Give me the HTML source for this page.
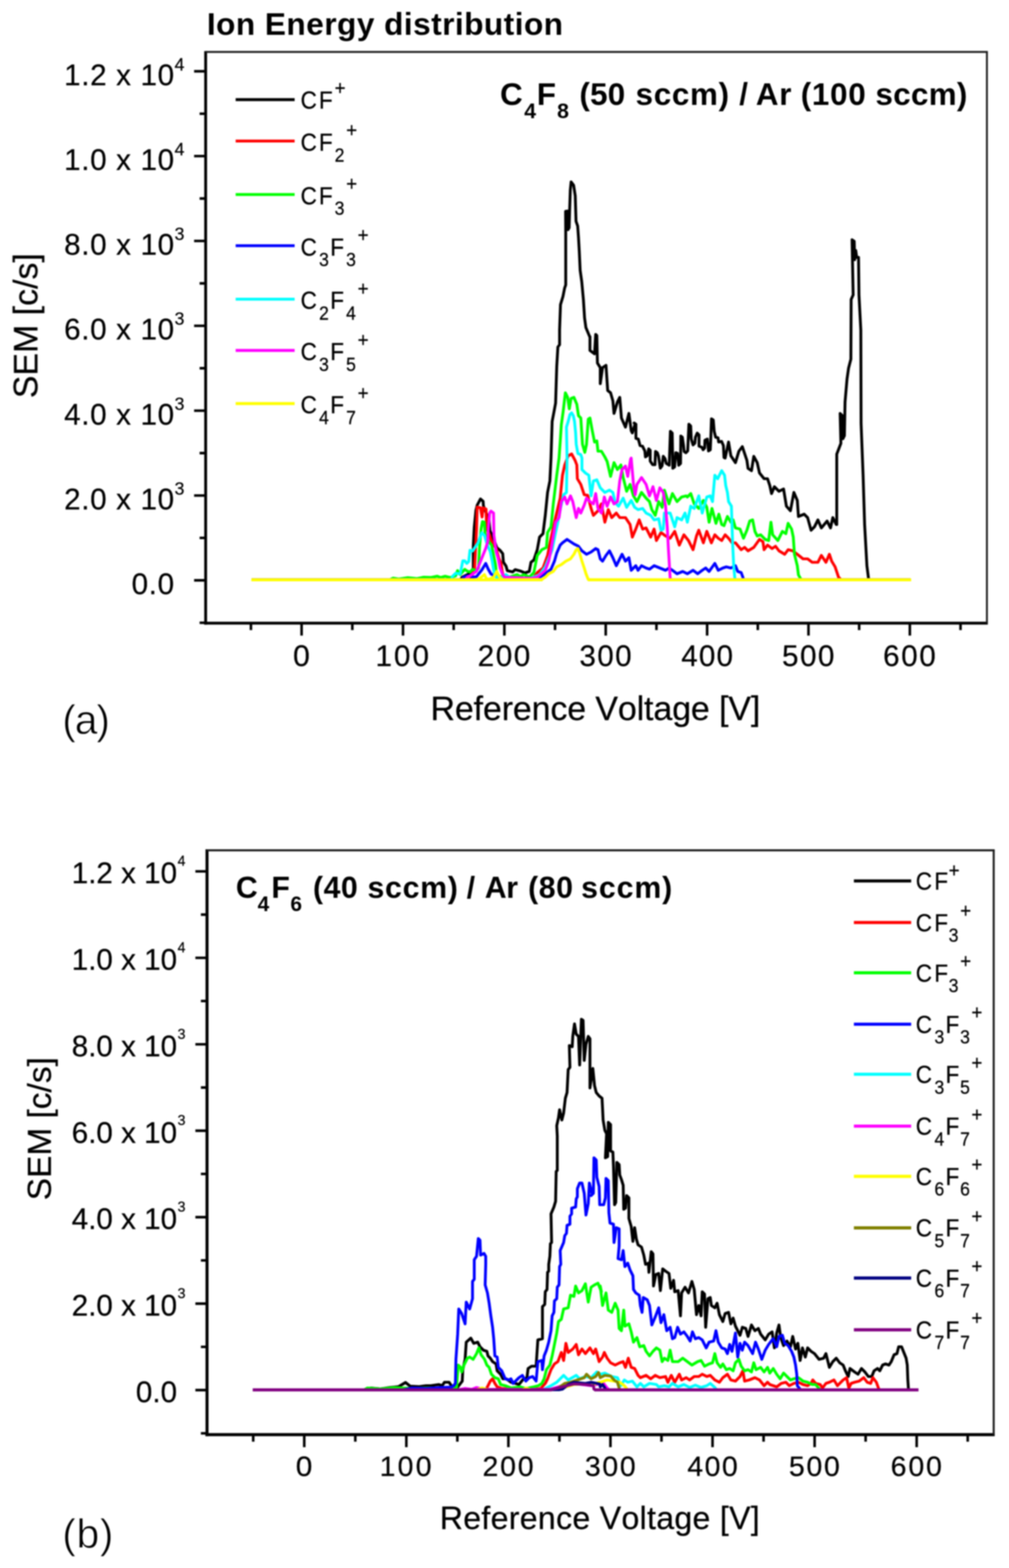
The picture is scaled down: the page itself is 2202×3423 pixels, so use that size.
<!DOCTYPE html>
<html lang="en"><head><meta charset="utf-8"><title>Ion Energy distribution</title>
<style>html,body{margin:0;padding:0;background:#fff}body{width:2202px;height:3423px;overflow:hidden}svg{display:block}</style>
</head><body>
<svg width="2202" height="3423" viewBox="0 0 2202 3423" font-family='"Liberation Sans", Arial, Helvetica, sans-serif' fill="#000">
<rect width="2202" height="3423" fill="#fff"/>
<style>text{stroke:#000;stroke-width:.5px;font-kerning:none}text[font-weight]{stroke:none}</style>
<defs><filter id="soft" x="0" y="0" width="100%" height="100%" filterUnits="userSpaceOnUse" color-interpolation-filters="sRGB"><feGaussianBlur stdDeviation="1.5"/></filter></defs>
<g filter="url(#soft)">
<text x="451.38" y="75.7" font-size="69" letter-spacing="1.01" font-weight="bold">Ion Energy distribution</text>
<polyline points="549,1265.7 1005,1265.7 1008.6,1260 1020,1254.3 1027.1,1250 1032.9,1240 1032.9,1191.4 1035,1151.4 1038.6,1114.3 1041.4,1102.9 1048.6,1089.3 1054.3,1094.3 1055,1104.3 1062.9,1124.3 1067.1,1134.3 1069.3,1158.6 1078.6,1180 1084.3,1195.7 1091.4,1201.4 1097.1,1208.6 1098.6,1227.1 1104.3,1235.7 1107.1,1245.7 1118.6,1248.6 1124.3,1243.6 1137.1,1247.1 1147.1,1251.4 1147.5,1250 1155,1247.5 1158.8,1227.5 1165,1222.5 1172.5,1200 1177.5,1172.5 1185,1165 1190,1125 1195,1075 1200,1050 1202.5,1000 1205,920 1208.8,900 1212.5,880 1215,800 1217.5,757.5 1221.2,752.5 1221.2,720 1223.2,665 1228.6,647.1 1232.1,629.3 1234.6,622.1 1234.6,507.9 1234.3,461.4 1238.6,460.7 1239.6,501.4 1242.1,497.1 1243.2,457.9 1244.6,415 1246.4,397.1 1251.8,404.3 1255.4,427.5 1257.1,482.9 1260.7,493.6 1262.5,518.6 1264.3,550.7 1266.1,590 1269.6,615 1273.2,654.3 1275.7,693.6 1278.6,715 1287.5,736.4 1287.5,735 1287.5,765 1297.5,772.5 1300,730 1302.5,732.5 1303.8,792.5 1310,802.5 1310,837.5 1315,802.5 1322.5,797.5 1326.2,852.5 1332.5,857.5 1337.5,875 1340,902.5 1347.5,877.5 1352.5,867.5 1356.2,912.5 1365,932.5 1372.5,902.5 1377.5,940 1380,945 1386.2,925 1383.9,923.4 1387.8,926 1387.8,957.1 1393,958.4 1396.9,972.7 1402.1,974 1407.3,984.4 1408.6,997.4 1412.5,994.8 1415.7,979.9 1419,983.1 1419,1006.5 1424.2,1014.3 1429.4,1014.3 1430.6,985.7 1434.5,988.3 1437.1,996.1 1441,1022.1 1444.9,1016.9 1447.5,996.1 1451.4,1001.3 1454,1011.7 1460.5,1015.6 1463.1,941.6 1467,945.5 1468.3,1022.1 1472.2,1019.5 1474.8,988.3 1478.7,989.6 1481.3,1015.6 1485.2,1011.7 1485.8,951.9 1489.1,954.5 1491.7,972.7 1493,985.7 1496.9,988.3 1500.8,984.4 1503.4,926 1507.3,929.9 1508.6,958.4 1512.5,971.4 1516.4,967.5 1517.7,954.5 1521.6,945.5 1525.5,949.4 1525.5,974 1531.9,976.6 1534.5,981.8 1537.8,977.9 1538.4,961 1543.6,958.4 1546.2,984.4 1550.1,981.8 1551.4,951.9 1552.7,914.3 1556.6,916.9 1558.6,941.6 1561.8,954.5 1567,955.8 1568.3,964.9 1574.8,963.6 1578.7,972.7 1580,998.7 1582.5,1000 1590,965 1595,995 1605,1010 1612.5,985 1620,975 1630,1005 1632.5,1022.5 1640,1027.5 1645,996.2 1652.5,1010 1657.5,1032.5 1667.5,1045 1675,1045 1680,1060 1683.8,1077.5 1690,1062.5 1700,1072.5 1710,1067.5 1716.2,1105 1725,1115 1732.5,1075 1740,1092.5 1742.5,1127.5 1755,1122.5 1762.5,1130 1770,1157.5 1777.5,1150 1785,1135 1792.5,1152.5 1805,1137.5 1812.5,1152.5 1817.5,1130 1825,1145 1826.1,1145 1826.1,991.3 1835.1,967.9 1833.5,902.7 1838.5,907.7 1839.5,957.8 1842.8,951.2 1844.2,877.6 1848.5,827.5 1851.8,804.1 1856.9,784.1 1857.5,653.7 1861.9,643.7 1859.5,523.4 1864.2,526.8 1865.2,566.9 1867.6,546.8 1869.6,561.8 1873.6,561.8 1874.6,643.7 1878.6,720.6 1879.2,924.4 1883.6,1038 1886.9,1145 1891.9,1235.2 1895.3,1261.9 1897,1265.7 1987,1265.7" fill="none" stroke="#000" stroke-width="6.2" stroke-linejoin="round" stroke-linecap="butt"/>
<polyline points="549,1265.7 1025,1265.7 1028.6,1260.7 1035.7,1240 1040,1154.3 1041.4,1107.1 1048.6,1108.6 1052.1,1128.6 1054.3,1108.6 1060.7,1111.4 1062.1,1154.3 1068.6,1168.6 1072.9,1182.9 1082.9,1197.1 1088.6,1218.6 1093.6,1230 1095.7,1245.7 1098.6,1258.6 1110,1263.7 1160,1263.7 1165,1260 1172.5,1250 1185,1240 1195,1212.5 1202.5,1175 1212.5,1130 1222.5,1087.5 1227.5,1037.5 1232.5,1015 1240,995 1247.5,991 1255,1005 1258.8,1015 1260,1045 1267.5,1057.5 1275,1080 1282.5,1081.2 1290,1110 1295,1125 1305,1115 1312.5,1100 1320,1140 1327.5,1112.5 1335,1130 1345,1120 1352.5,1130 1365,1130 1375,1145 1380,1172.5 1387.5,1155 1395,1135 1402.5,1155 1410,1152.5 1420,1172.5 1427.5,1155 1432.5,1180 1442.5,1162.5 1452.5,1170 1462.5,1175 1472.5,1160 1482.5,1190 1492.5,1167.5 1502.5,1180 1507.5,1190 1512.5,1200 1520,1170 1525,1157.5 1535,1185 1542.5,1160 1552.5,1185 1560,1167.5 1567.5,1175 1575,1180 1582.5,1167.5 1590,1175 1597.5,1185 1605,1185 1617.5,1200 1625,1195 1632.5,1202.5 1645,1195 1657.5,1177.5 1665,1182.5 1667.5,1200 1675,1190 1685,1197.5 1692.5,1192.5 1700,1202.5 1712.5,1210 1720,1200 1730,1202.5 1740,1210 1752.5,1220 1762.5,1220 1772.5,1227.5 1785,1227.5 1792.5,1212.5 1802.5,1227.5 1810,1210 1815,1225 1822.5,1237.5 1830,1260 1833.8,1263.8 1835,1265.7 1987,1265.7" fill="none" stroke="#f00" stroke-width="6.2" stroke-linejoin="round" stroke-linecap="butt"/>
<polyline points="549,1265.7 850,1265.7 858,1262 870,1264 890,1261 910,1263 925,1260 940,1260.7 954.3,1257.9 961.4,1260.7 971.4,1257.9 982.9,1260.7 994.3,1257.1 998.6,1245.7 1004.3,1254.3 1014.3,1242.9 1020,1247.1 1025.7,1248.6 1031.4,1242.9 1040,1245.7 1044.3,1240 1046.4,1197.1 1050,1154.3 1052.9,1138.6 1057.1,1140 1058.6,1165.7 1061.4,1175.7 1072.9,1190 1077.1,1211.4 1081.4,1232.9 1082.9,1247.1 1090,1258.6 1111.4,1260 1128.6,1254.3 1135.7,1258.6 1142.9,1254.3 1150,1257.1 1155,1260 1165,1250 1172.5,1212.5 1182.5,1200 1192.5,1195 1195,1162.5 1202.5,1150 1207.5,1100 1215,1037.5 1220,1000 1222.5,965 1225,927.5 1228.8,900 1233.8,857.5 1238.8,867.5 1242.5,892.5 1246.2,870 1252.5,867.5 1258.8,882.5 1262.5,907.5 1267.5,912.5 1271.2,970 1276.2,987.5 1280,970 1283.8,915 1287.5,912.5 1292.5,940 1297.5,965 1302.5,962.5 1305,985 1312.5,985 1320,997.5 1325,1007.5 1332.5,1040 1340,1010 1347.5,1025 1355,1015 1360,1042.5 1367.5,1072.5 1375,1057.5 1382.5,1082.5 1390,1095 1400,1075 1410,1087.5 1417.5,1095 1422.5,1112.5 1430,1125 1437.5,1095 1445,1107.5 1450,1070 1460,1100 1467.5,1077.5 1477.5,1095 1487.5,1085 1497.5,1082.5 1500,1085 1507.5,1077.5 1515,1100 1525,1110 1535,1092.5 1542.5,1107.5 1547.5,1140 1553.8,1110 1562.5,1142.5 1568.8,1122.5 1575,1145 1580,1147.5 1587.5,1127.5 1595,1140 1600,1135 1605,1152.5 1615,1155 1622.5,1175 1630,1157.5 1636.2,1137.5 1642.5,1135 1647.5,1160 1652.5,1170 1660,1167.5 1670,1177.5 1677.5,1180 1682.5,1140 1686.2,1167.5 1697.5,1180 1707.5,1160 1715,1165 1720,1142.5 1727.5,1155 1731.2,1172.5 1733.8,1210 1740,1235 1742.5,1255 1747.5,1263.8 1750,1265.7 1987,1265.7" fill="none" stroke="#0f0" stroke-width="6.2" stroke-linejoin="round" stroke-linecap="butt"/>
<polyline points="549,1265.7 1010,1265.7 1011.4,1260 1020,1257.1 1032.9,1260 1040,1258.6 1051.4,1244.3 1060,1230 1065.7,1242.9 1071.4,1252.9 1082.9,1258.6 1088.6,1264.3 1100,1265.7 1160,1265.7 1165,1262.5 1177.5,1260 1190,1252.5 1202.5,1242.5 1210,1225 1215,1207.5 1222.5,1190 1227.5,1185 1237.5,1177.5 1245,1182.5 1252.5,1187.5 1262.5,1192.5 1270,1202.5 1280,1210 1290,1205 1300,1197.5 1305,1200 1310,1220 1315,1225 1322.5,1212.5 1330,1202.5 1337.5,1217.5 1345,1235 1350,1225 1357.5,1210 1365,1225 1372.5,1217.5 1377.5,1245 1387.5,1235 1392.5,1245 1400,1235 1410,1240 1417.5,1242.5 1427.5,1235 1440,1240 1452.5,1245 1460,1240 1467.5,1245 1477.5,1252.5 1490,1247.5 1500,1252.5 1512.5,1245 1522.5,1252.5 1532.5,1245 1540,1240 1547.5,1247.5 1560,1230 1567.5,1245 1577.5,1240 1585,1237.5 1595,1240 1605,1235 1610,1247.5 1617.5,1250 1621.2,1260 1622.5,1265 1625,1265.7 1987,1265.7" fill="none" stroke="#00f" stroke-width="6.2" stroke-linejoin="round" stroke-linecap="butt"/>
<polyline points="549,1265.7 985,1265.7 987.1,1258.6 994.3,1251.4 1004.3,1252.9 1010,1224.3 1014.3,1224.3 1018.6,1230 1022.9,1225.7 1025.7,1201.4 1031.4,1202.9 1037.1,1194.3 1042.9,1185.7 1047.1,1174.3 1051.4,1162.9 1057.1,1168.6 1061.4,1182.9 1065.7,1194.3 1070,1204.3 1074.3,1225.7 1077.1,1242.9 1079.3,1254.3 1082.9,1260 1097.1,1260 1104.3,1254.3 1111.4,1260 1150,1264.7 1165,1260 1177.5,1255 1190,1237.5 1205,1200 1212.5,1162.5 1217.5,1140 1222.5,1112.5 1230,1080 1236.2,1075 1237.5,1000 1236.2,932.5 1240,920 1243.8,905 1247.5,901.2 1251.2,907.5 1253.8,920 1256.2,945 1257.5,970 1261.2,990 1267.5,992.5 1270,1000 1270,1025 1277.5,1032.5 1285,1037.5 1290,1082.5 1295,1050 1302.5,1047.5 1310,1065 1320,1075 1330,1070 1337.5,1075 1342.5,1097.5 1350,1105 1360,1087.5 1367.5,1107.5 1377.5,1092.5 1385,1107.5 1392.5,1112.5 1402.5,1110 1410,1120 1420,1125 1427.5,1135 1437.5,1132.5 1442.5,1157.5 1447.5,1155 1450,1120 1462.5,1120 1472.5,1150 1477.5,1130 1487.5,1135 1495,1120 1500,1140 1507.5,1105 1515,1110 1525,1082.5 1532.5,1120 1542.5,1085 1550,1082.5 1555,1095 1560,1037.5 1566.2,1045 1575,1027.5 1581.2,1037.5 1583.8,1060 1587.5,1075 1590,1095 1596.2,1105 1598.8,1185 1601.2,1235 1603.8,1263.8 1605,1265.7 1987,1265.7" fill="none" stroke="#0ff" stroke-width="6.2" stroke-linejoin="round" stroke-linecap="butt"/>
<polyline points="549,1265.7 1015,1265.7 1020,1260 1025.7,1257.1 1040,1247.1 1048.6,1225.7 1054.3,1211.4 1060,1197.1 1064.3,1182.9 1065.7,1154.3 1068.6,1120 1071.4,1115.7 1077.1,1120 1077.9,1168.6 1080,1182.9 1082.9,1204.3 1087.1,1218.6 1091.4,1240 1097.1,1254.3 1101.4,1260 1160,1262.5 1172.5,1260 1190,1245 1197.5,1225 1202.5,1200 1207.5,1170 1212.5,1140 1220,1130 1225,1095 1232.5,1085 1237.5,1100 1245,1082.5 1250,1095 1257.5,1130 1262.5,1110 1267.5,1120 1275,1102.5 1280,1087.5 1287.5,1095 1295,1100 1300,1077.5 1305,1110 1312.5,1120 1318.8,1085 1325,1105 1332.5,1085 1340,1100 1347.5,1095 1352.5,1050 1357.5,1025 1365,1017.5 1370,1040 1376.2,1002.5 1377.5,1000 1382.5,1057.5 1386.2,1080 1390,1057.5 1400,1042.5 1410,1057.5 1417.5,1082.5 1425,1062.5 1432.5,1092.5 1440,1065 1447.5,1075 1452.5,1105 1456.2,1150 1458.8,1200 1462.5,1261.2 1464,1265.7 1987,1265.7" fill="none" stroke="#f0f" stroke-width="6.2" stroke-linejoin="round" stroke-linecap="butt"/>
<polyline points="549,1265.7 1035,1265.7 1040,1265.7 1048.6,1261.4 1057.1,1254.3 1061.4,1262.9 1068.6,1264.3 1077.1,1260 1084.3,1247.1 1088.6,1257.1 1094.3,1264.3 1101.4,1265.7 1182.5,1265 1190,1260 1197.5,1252.5 1207.5,1247.5 1215,1237.5 1225,1232.5 1235,1225 1245,1220 1252.5,1210 1257.5,1200 1261.2,1197.5 1265,1207.5 1270,1225 1275,1240 1278.8,1252.5 1283.8,1265 1290,1265.7 1987,1265.7" fill="none" stroke="#ff0" stroke-width="6.2" stroke-linejoin="round" stroke-linecap="butt"/>
<path d="M548.5 1265.9H1184M1283 1265.9H1988.5" fill="none" stroke="#ff0" stroke-width="6.4"/>
<g stroke="#000" fill="none" stroke-linecap="butt">
<line x1="448.8" y1="111.4" x2="448.8" y2="1363.5" stroke-width="6.2"/>
<line x1="445.6" y1="1360.4" x2="2155.8" y2="1360.4" stroke-width="6.2"/>
<line x1="448.8" y1="113.4" x2="2155.8" y2="113.4" stroke="#1c1c1c" stroke-width="4.1"/>
<line x1="2153.8" y1="113.4" x2="2153.8" y2="1360.4" stroke="#1c1c1c" stroke-width="4.1"/>
<path d="M435.6 1359.5H448.8M423.6 1266.9H448.8M435.6 1174.3H448.8M423.6 1081.7H448.8M435.6 989.1H448.8M423.6 896.5H448.8M435.6 803.9H448.8M423.6 711.2H448.8M435.6 618.6H448.8M423.6 526H448.8M435.6 433.4H448.8M423.6 340.8H448.8M435.6 248.2H448.8M423.6 155.6H448.8M547.6 1360.4V1375.5M658.2 1360.4V1387.5M768.9 1360.4V1375.5M879.5 1360.4V1387.5M990.1 1360.4V1375.5M1100.7 1360.4V1387.5M1211.3 1360.4V1375.5M1321.9 1360.4V1387.5M1432.6 1360.4V1375.5M1543.2 1360.4V1387.5M1653.8 1360.4V1375.5M1764.4 1360.4V1387.5M1875 1360.4V1375.5M1985.6 1360.4V1387.5M2096.2 1360.4V1375.5" stroke-width="5.6"/>
</g>
<text transform="translate(639.43 1454) scale(1.0216 1)" font-size="64.5">0</text>
<text x="819.57" y="1454" font-size="64.5" letter-spacing="4.41">100</text>
<text x="1042.47" y="1454" font-size="64.5" letter-spacing="3.57">200</text>
<text x="1264.48" y="1454" font-size="64.5" letter-spacing="3.18">300</text>
<text x="1486.69" y="1454" font-size="64.5" letter-spacing="2.69">400</text>
<text x="1706.82" y="1454" font-size="64.5" letter-spacing="3.24">500</text>
<text x="1927.35" y="1454" font-size="64.5" letter-spacing="3.59">600</text>
<text x="287.2" y="1296.9" font-size="64.5" letter-spacing="1.5">0.0</text>
<text x="139.9" y="1111.7" font-size="64.5" letter-spacing="1.5">2.0 x 10<tspan x="381" y="1079.7" font-size="38.5" letter-spacing="0">3</tspan></text>
<text x="139.9" y="926.5" font-size="64.5" letter-spacing="1.5">4.0 x 10<tspan x="381" y="894.5" font-size="38.5" letter-spacing="0">3</tspan></text>
<text x="139.9" y="741.2" font-size="64.5" letter-spacing="1.5">6.0 x 10<tspan x="381" y="709.2" font-size="38.5" letter-spacing="0">3</tspan></text>
<text x="139.9" y="556" font-size="64.5" letter-spacing="1.5">8.0 x 10<tspan x="381" y="524" font-size="38.5" letter-spacing="0">3</tspan></text>
<text x="139.9" y="370.8" font-size="64.5" letter-spacing="1.5">1.0 x 10<tspan x="381" y="338.8" font-size="38.5" letter-spacing="0">4</tspan></text>
<text x="139.9" y="185.6" font-size="64.5" letter-spacing="1.5">1.2 x 10<tspan x="381" y="153.6" font-size="38.5" letter-spacing="0">4</tspan></text>
<text transform="translate(81.6 711) rotate(-90)" font-size="74" text-anchor="middle">SEM [c/s]</text>
<text x="939.43" y="1572.3" font-size="74" letter-spacing="-0.21">Reference Voltage [V]</text>
<text x="135.98" y="1602.3" font-size="89" letter-spacing="-2.37" style="stroke:#fff;stroke-width:1.3px">(a)</text>
<text font-weight="bold"><tspan x="1091.19" y="229" font-size="68.5">C</tspan><tspan x="1144" y="258" font-size="46.5">4</tspan><tspan x="1171.52" y="229" font-size="68.5">F</tspan><tspan x="1215.82" y="258" font-size="46.5">8</tspan> <tspan x="1264.49" y="229" font-size="68.5" letter-spacing="0.41">(50</tspan> <tspan x="1387.09" y="229" font-size="68.5" letter-spacing="1.5">sccm)</tspan> <tspan x="1613.33" y="229" font-size="68.5">/</tspan> <tspan x="1649.39" y="229" font-size="68.5" letter-spacing="1.62">Ar</tspan> <tspan x="1747.39" y="229" font-size="68.5" letter-spacing="1.61">(100</tspan> <tspan x="1910.39" y="229" font-size="68.5" letter-spacing="0.68">sccm)</tspan></text>
<line x1="514.3" y1="217.5" x2="643" y2="217.5" stroke="#000" stroke-width="6.3"/>
<text transform="scale(0.92 1)"><tspan x="713.15" y="236.8" font-size="53.5">C</tspan><tspan x="756.59" y="236.8" font-size="53.5">F</tspan><tspan x="793.7" y="207.1" font-size="44.5">+</tspan></text>
<line x1="514.3" y1="307.9" x2="643" y2="307.9" stroke="#f00" stroke-width="6.3"/>
<text transform="scale(0.92 1)"><tspan x="713.15" y="329.2" font-size="53.5">C</tspan><tspan x="756.59" y="329.2" font-size="53.5">F</tspan><tspan x="793.73" y="352.7" font-size="42">2</tspan><tspan x="821.09" y="299.5" font-size="44.5">+</tspan></text>
<line x1="514.3" y1="424.6" x2="643" y2="424.6" stroke="#0f0" stroke-width="6.3"/>
<text transform="scale(0.92 1)"><tspan x="713.15" y="445.9" font-size="53.5">C</tspan><tspan x="756.59" y="445.9" font-size="53.5">F</tspan><tspan x="793.73" y="469.4" font-size="42">3</tspan><tspan x="821.09" y="416.2" font-size="44.5">+</tspan></text>
<line x1="514.3" y1="536.4" x2="643" y2="536.4" stroke="#00f" stroke-width="6.3"/>
<text transform="scale(0.92 1)"><tspan x="713.15" y="557.7" font-size="53.5">C</tspan><tspan x="756.88" y="581.2" font-size="42">3</tspan><tspan x="783.33" y="557.7" font-size="53.5">F</tspan><tspan x="821.01" y="581.2" font-size="42">3</tspan><tspan x="848.37" y="528" font-size="44.5">+</tspan></text>
<line x1="514.3" y1="653.2" x2="643" y2="653.2" stroke="#0ff" stroke-width="6.3"/>
<text transform="scale(0.92 1)"><tspan x="713.15" y="674.5" font-size="53.5">C</tspan><tspan x="756.88" y="698" font-size="42">2</tspan><tspan x="783.33" y="674.5" font-size="53.5">F</tspan><tspan x="821.01" y="698" font-size="42">4</tspan><tspan x="848.37" y="644.8" font-size="44.5">+</tspan></text>
<line x1="514.3" y1="765" x2="643" y2="765" stroke="#f0f" stroke-width="6.3"/>
<text transform="scale(0.92 1)"><tspan x="713.15" y="786.3" font-size="53.5">C</tspan><tspan x="756.88" y="809.8" font-size="42">3</tspan><tspan x="783.33" y="786.3" font-size="53.5">F</tspan><tspan x="821.01" y="809.8" font-size="42">5</tspan><tspan x="848.37" y="756.6" font-size="44.5">+</tspan></text>
<line x1="514.3" y1="881" x2="643" y2="881" stroke="#ff0" stroke-width="6.3"/>
<text transform="scale(0.92 1)"><tspan x="713.15" y="902.3" font-size="53.5">C</tspan><tspan x="756.88" y="925.8" font-size="42">4</tspan><tspan x="783.33" y="902.3" font-size="53.5">F</tspan><tspan x="821.01" y="925.8" font-size="42">7</tspan><tspan x="848.37" y="872.6" font-size="44.5">+</tspan></text>
<polyline points="553,3034 795,3034 810,3030 830,3032 850,3029 870,3027 885,3018 895,3026 915,3027 930,3025 940,3025 957.5,3022.5 965,3025 970,3017.5 980,3017.5 985,3025 997.5,3030 1005,3020 1008.8,3015 1010,2990 1015,2967.5 1017.5,2930 1027.5,2921.2 1033.8,2932.5 1042.5,2930 1047.5,2940 1055,2947.5 1062.5,2950 1065,2960 1070,2965 1075,2972.5 1082.5,2977.5 1085,2992.5 1092.5,3000 1097.5,3010 1105,3010 1115,3017.5 1125,3020 1132.5,3022.5 1142.5,3010 1150,3007.5 1152.5,2987.5 1160,2982.5 1170,2982.5 1173.8,2925 1183.8,2922.5 1183.8,2852.5 1188.8,2847.5 1190,2820 1193.8,2815 1195,2777.5 1197.5,2775 1197.5,2760 1200,2742.5 1201.2,2715 1203.8,2712.5 1202.5,2650 1208.8,2635 1212.5,2622.5 1213.8,2557.5 1216.2,2555 1216.2,2480 1215,2457.5 1218.8,2440 1221.2,2422.5 1226.2,2445 1230,2430 1233.8,2397.5 1237.5,2385 1240,2335 1243.8,2330 1242.5,2282.5 1248.8,2285 1250,2262.5 1253.8,2235 1257.5,2257.5 1262.5,2262.5 1265,2325 1268.8,2225 1272.5,2227.5 1275,2315 1278.8,2280 1283.8,2262.5 1287.5,2267.5 1287.5,2375 1293.8,2332.5 1297.5,2370 1301.2,2385 1307.5,2392.5 1313.8,2397.5 1315,2420 1316.2,2445 1320,2467.5 1323.8,2475 1321.2,2527.5 1326.2,2525 1327.5,2450 1332.5,2455 1332.5,2512.5 1337.5,2515 1338.8,2545 1341.2,2630 1343.8,2625 1346.2,2537.5 1351.2,2542.5 1352.5,2565 1356.2,2575 1360,2587.5 1361.2,2640 1365,2637.5 1367.5,2610 1372.5,2615 1372.5,2660 1377.5,2677.5 1381.2,2710 1385,2680 1388.8,2705 1392.5,2717.5 1400,2722.5 1405,2740 1408.8,2760 1415,2757.5 1416.2,2777.5 1421.2,2732.5 1425,2737.5 1426.2,2807.5 1431.2,2782.5 1437.5,2780 1441.2,2817.5 1446.2,2770 1452.5,2775 1460,2780 1463.8,2812.5 1470,2795 1472.5,2820 1480,2817.5 1485,2872.5 1487.5,2822.5 1495,2810 1502.5,2822.5 1510,2797.5 1515,2815 1520,2870 1525,2850 1530,2872.5 1532.5,2820 1537.5,2825 1540,2897.5 1545,2835 1550,2832.5 1552.5,2850 1560,2855 1565,2845 1570,2870 1577.5,2885 1582.5,2867.5 1590,2865 1595,2890 1600,2877.5 1605,2895 1615,2915 1620,2897.5 1627.5,2900 1632.5,2917.5 1640,2892.5 1647.5,2905 1655,2900 1660,2912.5 1670,2925 1677.5,2912.5 1685,2907.5 1690,2942.5 1695,2910 1700,2892.5 1703.8,2920 1710,2937.5 1717.5,2927.5 1725,2940 1730,2917.5 1736.2,2945 1741.2,2932.5 1746.2,2970 1751.2,2942.5 1757.5,2962.5 1762.5,2942.5 1770,2950 1777.5,2955 1787.5,2967.5 1797.5,2965 1802.5,2955 1810,2985 1817.5,2972.5 1825,2965 1832.5,2975 1840,2980 1845,2992.5 1851.2,3005 1855,2987.5 1865,2995 1872.5,3000 1880,2987.5 1887.5,2995 1895,3005 1902.5,3005 1907.5,2992.5 1915,2987.5 1920,2992.5 1926.2,2980 1932.5,2977.5 1940,2980 1945,2972.5 1951.2,2957.5 1957.5,2955 1961.2,2940 1967.5,2940 1972.5,2952.5 1977.5,2965 1980,2980 1981.2,3012.5 1982.5,3031.2 1984,3034 2002,3034" fill="none" stroke="#000" stroke-width="6.2" stroke-linejoin="round" stroke-linecap="butt"/>
<polyline points="553,3034 1060,3034 1065,3025 1070,3015 1075,3010 1080,3020 1085,3027.5 1095,3031.2 1115,3032.5 1165,3032.5 1180,3031.2 1190,3020 1195,3010 1202.5,2990 1210,2977.5 1217.5,2972.5 1225,2952.5 1230,2970 1235,2932.5 1240,2952.5 1250,2945 1257.5,2935 1262.5,2957.5 1270,2945 1277.5,2955 1287.5,2942.5 1295,2955 1300,2945 1307.5,2972.5 1315,2962.5 1318.8,2952.5 1325,2965 1332.5,2975 1342.5,2980 1352.5,2975 1360,2972.5 1365,2985 1371.2,2965 1377.5,2985 1385,2987.5 1392.5,3002.5 1397.5,3007.5 1410,3002.5 1420,3010 1430,3002.5 1440,3007.5 1452.5,3005 1457.5,3017.5 1465,3002.5 1472.5,3017.5 1482.5,3000 1487.5,3012.5 1497.5,3007.5 1505,3012.5 1515,3005 1525,3005 1532.5,3000 1542.5,3005 1550,3002.5 1560,3012.5 1570,3017.5 1577.5,3007.5 1587.5,3000 1595,3012.5 1605,3015 1615,3005 1621.2,2992.5 1625,3015 1635,3012.5 1647.5,3007.5 1657.5,3012.5 1667.5,3025 1675,3017.5 1680,3022.5 1680,3022.5 1687.5,3025 1695,3027.5 1705,3020 1715,3017.5 1722.5,3025 1732.5,3020 1742.5,3017.5 1752.5,3022.5 1762.5,3025 1770,3020 1773.8,3012.5 1780,3020 1790,3022.5 1795,3030 1802.5,3020 1810,3017.5 1820,3012.5 1827.5,3025 1832.5,3020 1840,3012.5 1847.5,3007.5 1852.5,3030 1857.5,3020 1865,3017.5 1875,3015 1885,3007.5 1892.5,3017.5 1900,3020 1905,3007.5 1912.5,3017.5 1917.5,3031.2 1919,3034 2002,3034" fill="none" stroke="#f00" stroke-width="6.2" stroke-linejoin="round" stroke-linecap="butt"/>
<polyline points="553,3034 795,3034 802,3030 830,3032 860,3029 900,3031 940,3030 985,3031 996.2,3030 1000,2980 1005,2985 1007.5,2995 1012.5,2980 1020,2965 1025,2962.5 1032.5,2967.5 1040,2955 1045,2942.5 1050,2957.5 1057.5,2967.5 1062.5,2980 1067.5,2985 1072.5,3000 1080,3007.5 1087.5,3010 1092.5,3022.5 1102.5,3025 1115,3030 1135,3027.5 1147.5,3031.2 1165,3027.5 1175,3025 1182.5,3020 1187.5,3010 1192.5,2990 1200,2980 1205,2960 1210,2935 1215,2910 1218.8,2885 1225,2880 1230,2857.5 1240,2855 1245,2827.5 1252.5,2830 1256.2,2807.5 1262.5,2822.5 1270,2817.5 1277.5,2802.5 1283.8,2842.5 1290,2810 1297.5,2805 1305,2801.2 1312.5,2820 1310,2807.5 1315,2850 1322.5,2822.5 1327.5,2860 1335,2865 1342.5,2845 1348.8,2860 1351.2,2900 1356.2,2905 1361.2,2860 1363.8,2895 1372.5,2890 1377.5,2907.5 1382.5,2930 1390,2920 1396.2,2940 1405,2937.5 1410,2950 1417.5,2960 1425,2950 1432.5,2942.5 1440,2947.5 1445,2972.5 1450,2965 1457.5,2970 1462.5,2947.5 1467.5,2972.5 1480,2972.5 1490,2965 1500,2972.5 1510,2980 1522.5,2972.5 1530,2970 1537.5,2982.5 1547.5,2977.5 1555,2975 1560,2955 1565,2975 1572.5,2985 1577.5,2977.5 1585,2990 1592.5,2987.5 1600,2992.5 1605,2975 1612.5,2967.5 1617.5,2982.5 1625,2992.5 1632.5,2990 1640,2995 1645,2975 1650,2990 1660,2985 1667.5,2995 1675,2985 1680,2997.5 1687.5,2987.5 1695,3000 1702.5,3010 1710,2997.5 1717.5,3005 1725,3012.5 1732.5,3010 1742.5,3007.5 1752.5,3015 1762.5,3017.5 1772.5,3022.5 1780,3022.5 1787.5,3031.2 1789,3034 2002,3034" fill="none" stroke="#0f0" stroke-width="6.2" stroke-linejoin="round" stroke-linecap="butt"/>
<polyline points="553,3034 880,3034 900,3030 930,3031 960,3029 985,3028 990,3025 993.8,3020 995,2967.5 998.8,2912.5 1001.2,2857.5 1007.5,2867.5 1015,2890 1017.5,2842.5 1025,2857.5 1031.2,2835 1031.2,2797.5 1035,2792.5 1035,2760 1035,2750 1040,2742.5 1041.2,2730 1043.8,2703.8 1047.5,2707.5 1048.8,2740 1056.2,2736.2 1060,2742.5 1060,2760 1058.8,2805 1063.8,2822.5 1067.5,2845 1071.2,2872.5 1075,2897.5 1077.5,2922.5 1080,2960 1085,2962.5 1087.5,2985 1095,2992.5 1102.5,3010 1110,3012.5 1115,3010 1120,3020 1127.5,3012.5 1132.5,3007.5 1140,3002.5 1147.5,3015 1155,3007.5 1162.5,3005 1170,3015 1173.8,2972.5 1182.5,2970 1183.8,2990 1187.5,2960 1192.5,2947.5 1197.5,2930 1202.5,2905 1205,2872.5 1208.8,2865 1210,2840 1215,2835 1216.2,2810 1220,2805 1221.2,2765 1223.8,2760 1222.5,2730 1230,2712.5 1232.5,2697.5 1236.2,2692.5 1237.5,2675 1243.8,2672.5 1243.8,2655 1247.5,2650 1247.5,2637.5 1256.2,2635 1257.5,2617.5 1260,2612.5 1260,2595 1265,2582.5 1270,2582.5 1275,2605 1278.8,2652.5 1283.8,2627.5 1286.2,2582.5 1292.5,2607.5 1290,2610 1295,2605 1296.2,2527.5 1301.2,2532.5 1302.5,2570 1307.5,2590 1308.8,2630 1317.5,2630 1321.2,2615 1322.5,2572.5 1327.5,2577.5 1328.8,2647.5 1331.2,2670 1338.8,2672.5 1340,2712.5 1345,2680 1351.2,2682.5 1351.2,2720 1348.8,2747.5 1356.2,2750 1360,2730 1363.8,2765 1370,2757.5 1375,2772.5 1381.2,2785 1382.5,2815 1387.5,2822.5 1395,2827.5 1397.5,2850 1401.2,2865 1403.8,2832.5 1412.5,2837.5 1417.5,2850 1422.5,2892.5 1430,2875 1437.5,2855 1442.5,2887.5 1448.8,2870 1455,2905 1462.5,2897.5 1467.5,2922.5 1472.5,2920 1478.8,2897.5 1485,2912.5 1492.5,2907.5 1500,2917.5 1506.2,2927.5 1511.2,2907.5 1517.5,2922.5 1525,2920 1532.5,2925 1541.2,2942.5 1547.5,2930 1557.5,2927.5 1562.5,2905 1567.5,2930 1575,2942.5 1582.5,2945 1587.5,2955 1592.5,2935 1597.5,2950 1605,2910 1610,2962.5 1615,2932.5 1620,2947.5 1625,2930 1632.5,2937.5 1642.5,2955 1648.8,2930 1655,2945 1662.5,2967.5 1670,2947.5 1677.5,2935 1685,2925 1687.5,2922.5 1695,2940 1700,2917.5 1707.5,2915 1712.5,2932.5 1720,2937.5 1727.5,2950 1732.5,2962.5 1736.2,2980 1738.8,3000 1740,3025 1745,3031.2 1747,3034 2002,3034" fill="none" stroke="#00f" stroke-width="6.2" stroke-linejoin="round" stroke-linecap="butt"/>
<polyline points="553,3034 1185,3034 1190,3031.2 1202.5,3025 1215,3017.5 1230,3002.5 1240,3012.5 1257.5,3002.5 1265,3010 1277.5,3005 1290,3007.5 1302.5,2995 1310,3000 1320,2997.5 1335,3005 1347.5,3007.5 1355,3025 1362.5,3012.5 1370,3017.5 1380,3015 1390,3027.5 1397.5,3020 1405,3027.5 1417.5,3020 1432.5,3022.5 1437.5,3027.5 1450,3025 1460,3027.5 1467.5,3020 1480,3027.5 1492.5,3022.5 1505,3028.8 1517.5,3023.8 1530,3028.8 1542.5,3025 1550,3020 1560,3028.8 1562.5,3032.5 1565,3034 2002,3034" fill="none" stroke="#0ff" stroke-width="6.2" stroke-linejoin="round" stroke-linecap="butt"/>
<polyline points="553,3034 1000,3034 1015,3031 1030,3033 1040,3029 1055,3033 1200,3033 1215,3028.8 1235,3022.5 1252.5,3020 1270,3022.5 1290,3025 1307.5,3021.2 1310,3025 1317.5,3020 1325,3030 1328.8,3033.8 1330,3034 2002,3034" fill="none" stroke="#f0f" stroke-width="6.2" stroke-linejoin="round" stroke-linecap="butt"/>
<polyline points="553,3034 1040,3034 1052,3030 1065,3034 1140,3034 1148,3030 1158,3034 1215,3034 1227.5,3030 1252.5,3022.5 1277.5,3021.2 1295,3022.5 1307.5,3017.5 1310,3017.5 1325,3012.5 1340,3015 1352.5,3017.5 1362.5,3025 1367.5,3031.2 1369,3034 2002,3034" fill="none" stroke="#ff0" stroke-width="6.2" stroke-linejoin="round" stroke-linecap="butt"/>
<polyline points="553,3034 1205,3034 1215,3032.5 1232.5,3020 1245,3017.5 1260,3012.5 1275,3007.5 1280,3000 1290,3010 1300,3005 1306.2,2996.2 1310,3007.5 1320,3002.5 1332.5,3003.8 1340,3012.5 1347.5,3017.5 1351.2,3030 1352.5,3033.8 1353,3034 2002,3034" fill="none" stroke="#808000" stroke-width="6.2" stroke-linejoin="round" stroke-linecap="butt"/>
<polyline points="553,3034 1220,3034 1227.5,3032.5 1240,3022.5 1252.5,3017.5 1277.5,3020 1290,3017.5 1302.5,3020 1308.8,3021.2 1310,3027.5 1315,3022.5 1320,3030 1322.5,3033.8 1325,3034 2002,3034" fill="none" stroke="#000080" stroke-width="6.2" stroke-linejoin="round" stroke-linecap="butt"/>
<polyline points="553,3034 1195,3034 1202.5,3033.8 1227.5,3027.5 1252.5,3021.2 1277.5,3022.5 1295,3025 1296.2,3032.5 1300,3034 2002,3034" fill="none" stroke="#800080" stroke-width="6.2" stroke-linejoin="round" stroke-linecap="butt"/>
<path d="M551.5 3034.1H1204M1297 3034.1H2004.5" fill="none" stroke="#800080" stroke-width="6.6"/>
<g stroke="#000" fill="none" stroke-linecap="butt">
<line x1="451.8" y1="1854" x2="451.8" y2="3135.2" stroke-width="6.6"/>
<line x1="448.4" y1="3131.9" x2="2170.8" y2="3131.9" stroke-width="6.6"/>
<line x1="451.8" y1="1856.2" x2="2170.8" y2="1856.2" stroke="#1c1c1c" stroke-width="4.4"/>
<line x1="2168.6" y1="1856.2" x2="2168.6" y2="3131.9" stroke="#1c1c1c" stroke-width="4.4"/>
<path d="M438.4 3129H451.8M426.4 3034.6H451.8M438.4 2940.2H451.8M426.4 2845.9H451.8M438.4 2751.5H451.8M426.4 2657.1H451.8M438.4 2562.8H451.8M426.4 2468.4H451.8M438.4 2374.1H451.8M426.4 2279.7H451.8M438.4 2185.3H451.8M426.4 2091H451.8M438.4 1996.6H451.8M426.4 1902.2H451.8M552.6 3131.9V3147.2M664 3131.9V3159.2M775.4 3131.9V3147.2M886.8 3131.9V3159.2M998.1 3131.9V3147.2M1109.5 3131.9V3159.2M1220.9 3131.9V3147.2M1332.2 3131.9V3159.2M1443.6 3131.9V3147.2M1555 3131.9V3159.2M1666.4 3131.9V3147.2M1777.8 3131.9V3159.2M1889.1 3131.9V3147.2M2000.5 3131.9V3159.2M2111.9 3131.9V3147.2" stroke-width="5.6"/>
</g>
<text transform="translate(645.47 3221.5) scale(1.0460 1)" font-size="62">0</text>
<text x="828.53" y="3221.5" font-size="62" letter-spacing="4.85">100</text>
<text x="1052.88" y="3221.5" font-size="62" letter-spacing="4.05">200</text>
<text x="1276.39" y="3221.5" font-size="62" letter-spacing="3.67">300</text>
<text x="1500.08" y="3221.5" font-size="62" letter-spacing="3.2">400</text>
<text x="1721.77" y="3221.5" font-size="62" letter-spacing="3.73">500</text>
<text x="1943.85" y="3221.5" font-size="62" letter-spacing="4.06">600</text>
<text x="296.6" y="3060.8" font-size="64.6" letter-spacing="0">0.0</text>
<text x="156.5" y="2872.1" font-size="64.6" letter-spacing="0">2.0 x 10<tspan x="387.4" y="2833.9" font-size="31" letter-spacing="0">3</tspan></text>
<text x="156.5" y="2683.3" font-size="64.6" letter-spacing="0">4.0 x 10<tspan x="387.4" y="2645.1" font-size="31" letter-spacing="0">3</tspan></text>
<text x="156.5" y="2494.6" font-size="64.6" letter-spacing="0">6.0 x 10<tspan x="387.4" y="2456.4" font-size="31" letter-spacing="0">3</tspan></text>
<text x="156.5" y="2305.9" font-size="64.6" letter-spacing="0">8.0 x 10<tspan x="387.4" y="2267.7" font-size="31" letter-spacing="0">3</tspan></text>
<text x="156.5" y="2117.2" font-size="64.6" letter-spacing="0">1.0 x 10<tspan x="387.4" y="2079" font-size="31" letter-spacing="0">4</tspan></text>
<text x="156.5" y="1928.4" font-size="64.6" letter-spacing="0">1.2 x 10<tspan x="387.4" y="1890.2" font-size="31" letter-spacing="0">4</tspan></text>
<text transform="translate(111 2464) rotate(-90)" font-size="73" text-anchor="middle">SEM [c/s]</text>
<text x="959.76" y="3337.8" font-size="70" letter-spacing="0.67">Reference Voltage [V]</text>
<text x="135.98" y="3378.6" font-size="89" letter-spacing="1.38" style="stroke:#fff;stroke-width:1.3px">(b)</text>
<text font-weight="bold"><tspan x="514.69" y="1960" font-size="66">C</tspan><tspan x="562.31" y="1989.2" font-size="45.5">4</tspan><tspan x="592.28" y="1960" font-size="66">F</tspan><tspan x="633.83" y="1989.2" font-size="45.5">6</tspan> <tspan x="682.91" y="1960" font-size="66" letter-spacing="1.25">(40</tspan> <tspan x="802.08" y="1960" font-size="66" letter-spacing="1.58">sccm)</tspan> <tspan x="1018.46" y="1960" font-size="66">/</tspan> <tspan x="1057.96" y="1960" font-size="66" letter-spacing="-0.81">Ar</tspan> <tspan x="1152.51" y="1960" font-size="66" letter-spacing="1.25">(80</tspan> <tspan x="1268.28" y="1960" font-size="66" letter-spacing="2.01">sccm)</tspan></text>
<line x1="1863.5" y1="1923.1" x2="1988.5" y2="1923.1" stroke="#000" stroke-width="6.8"/>
<text transform="scale(0.92 1)"><tspan x="2172.28" y="1942.1" font-size="53.5">C</tspan><tspan x="2216.26" y="1942.1" font-size="53.5">F</tspan><tspan x="2250.22" y="1915" font-size="44.5">+</tspan></text>
<line x1="1863.5" y1="2013.8" x2="1988.5" y2="2013.8" stroke="#f00" stroke-width="6.8"/>
<text transform="scale(0.92 1)"><tspan x="2172.28" y="2032.8" font-size="53.5">C</tspan><tspan x="2216.26" y="2032.8" font-size="53.5">F</tspan><tspan x="2250.25" y="2056.3" font-size="42">3</tspan><tspan x="2277.61" y="2003.3" font-size="44.5">+</tspan></text>
<line x1="1863.5" y1="2123.6" x2="1988.5" y2="2123.6" stroke="#0f0" stroke-width="6.8"/>
<text transform="scale(0.92 1)"><tspan x="2172.28" y="2142.6" font-size="53.5">C</tspan><tspan x="2216.26" y="2142.6" font-size="53.5">F</tspan><tspan x="2250.25" y="2166.1" font-size="42">3</tspan><tspan x="2277.61" y="2113.1" font-size="44.5">+</tspan></text>
<line x1="1863.5" y1="2235.8" x2="1988.5" y2="2235.8" stroke="#00f" stroke-width="6.8"/>
<text transform="scale(0.92 1)"><tspan x="2172.28" y="2254.8" font-size="53.5">C</tspan><tspan x="2216.55" y="2278.3" font-size="42">3</tspan><tspan x="2243" y="2254.8" font-size="53.5">F</tspan><tspan x="2277.53" y="2278.3" font-size="42">3</tspan><tspan x="2304.24" y="2225.3" font-size="44.5">+</tspan></text>
<line x1="1863.5" y1="2345.2" x2="1988.5" y2="2345.2" stroke="#0ff" stroke-width="6.8"/>
<text transform="scale(0.92 1)"><tspan x="2172.28" y="2364.2" font-size="53.5">C</tspan><tspan x="2216.55" y="2387.7" font-size="42">3</tspan><tspan x="2243" y="2364.2" font-size="53.5">F</tspan><tspan x="2277.53" y="2387.7" font-size="42">5</tspan><tspan x="2304.24" y="2334.7" font-size="44.5">+</tspan></text>
<line x1="1863.5" y1="2458.4" x2="1988.5" y2="2458.4" stroke="#f0f" stroke-width="6.8"/>
<text transform="scale(0.92 1)"><tspan x="2172.28" y="2477.4" font-size="53.5">C</tspan><tspan x="2216.55" y="2500.9" font-size="42">4</tspan><tspan x="2243" y="2477.4" font-size="53.5">F</tspan><tspan x="2277.53" y="2500.9" font-size="42">7</tspan><tspan x="2304.24" y="2447.9" font-size="44.5">+</tspan></text>
<line x1="1863.5" y1="2568" x2="1988.5" y2="2568" stroke="#ff0" stroke-width="6.8"/>
<text transform="scale(0.92 1)"><tspan x="2172.28" y="2587" font-size="53.5">C</tspan><tspan x="2216.55" y="2610.5" font-size="42">6</tspan><tspan x="2243" y="2587" font-size="53.5">F</tspan><tspan x="2277.53" y="2610.5" font-size="42">6</tspan><tspan x="2304.24" y="2557.5" font-size="44.5">+</tspan></text>
<line x1="1863.5" y1="2680.5" x2="1988.5" y2="2680.5" stroke="#808000" stroke-width="6.8"/>
<text transform="scale(0.92 1)"><tspan x="2172.28" y="2699.5" font-size="53.5">C</tspan><tspan x="2216.55" y="2723" font-size="42">5</tspan><tspan x="2243" y="2699.5" font-size="53.5">F</tspan><tspan x="2277.53" y="2723" font-size="42">7</tspan><tspan x="2304.24" y="2670" font-size="44.5">+</tspan></text>
<line x1="1863.5" y1="2790" x2="1988.5" y2="2790" stroke="#000080" stroke-width="6.8"/>
<text transform="scale(0.92 1)"><tspan x="2172.28" y="2809" font-size="53.5">C</tspan><tspan x="2216.55" y="2832.5" font-size="42">6</tspan><tspan x="2243" y="2809" font-size="53.5">F</tspan><tspan x="2277.53" y="2832.5" font-size="42">7</tspan><tspan x="2304.24" y="2779.5" font-size="44.5">+</tspan></text>
<line x1="1863.5" y1="2903" x2="1988.5" y2="2903" stroke="#800080" stroke-width="6.8"/>
<text transform="scale(0.92 1)"><tspan x="2172.28" y="2922" font-size="53.5">C</tspan><tspan x="2216.55" y="2945.5" font-size="42">7</tspan><tspan x="2243" y="2922" font-size="53.5">F</tspan><tspan x="2277.53" y="2945.5" font-size="42">7</tspan><tspan x="2304.24" y="2892.5" font-size="44.5">+</tspan></text>
</g>
</svg>
</body></html>
